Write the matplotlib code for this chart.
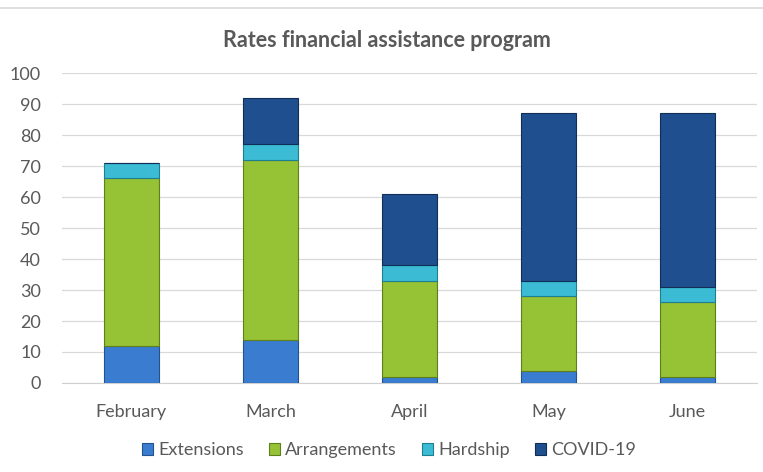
import numpy as np
import matplotlib
matplotlib.use('Agg')
import matplotlib.pyplot as plt
from matplotlib.lines import Line2D

months = ['February', 'March', 'April', 'May', 'June']
extensions = [12, 14, 2, 4, 2]
arrangements = [54, 58, 31, 24, 24]
hardship = [5, 5, 5, 5, 5]
covid = [0, 15, 23, 54, 56]

series = [('Extensions', extensions, '#3a7dd0', '#24528f'),
          ('Arrangements', arrangements, '#96c236', '#5f7f1c'),
          ('Hardship', hardship, '#3bbcd4', '#1f7f92'),
          ('COVID-19', covid, '#1f4f8f', '#112e57')]

plt.rcParams['font.family'] = ['Lato', 'DejaVu Sans']
text_col = '#595959'

fig = plt.figure(figsize=(7.63, 4.72), dpi=100)
ax = fig.add_axes([0.081, 0.1886, 0.911, 0.6564])

x = np.arange(len(months))
bottom = np.zeros(len(months))
handles = []
for name, vals, col, edge in series:
    vals = np.array(vals, dtype=float)
    bars = ax.bar(x, vals, 0.4, bottom=bottom, color=col, edgecolor=edge,
                  linewidth=0.8, label=name, zorder=3)
    bottom += vals
    handles.append(bars)

ax.set_ylim(0, 100)
ax.set_xlim(-0.5, len(months) - 0.5)
ax.set_yticks(range(0, 101, 10))
ax.set_xticks(x)
ax.set_xticklabels(months)
ax.tick_params(axis='both', length=0, labelsize=13, colors=text_col)
ax.tick_params(axis='x', pad=15)
ax.tick_params(axis='y', pad=15)
ax.grid(axis='y', color='#d9d9d9', linewidth=0.9, zorder=0)
for side in ['top', 'right', 'left']:
    ax.spines[side].set_visible(False)
ax.spines['bottom'].set_color('#d0d0d0')

fig.text(0.507, 0.915, 'Rates financial assistance program', ha='center', va='center',
         fontsize=15.5, fontweight='bold', color=text_col)

fig.legend(handles=handles, labels=[s[0] for s in series], loc='center',
           bbox_to_anchor=(0.51, 0.046), ncol=4, frameon=False, fontsize=13,
           handlelength=0.6, handleheight=0.6, handletextpad=0.3, columnspacing=1.4,
           labelcolor=text_col)

fig.add_artist(Line2D([0.0, 1.0], [0.983, 0.983], color='#d9d9d9', linewidth=1.2))

plt.savefig('out.png', dpi=100)
